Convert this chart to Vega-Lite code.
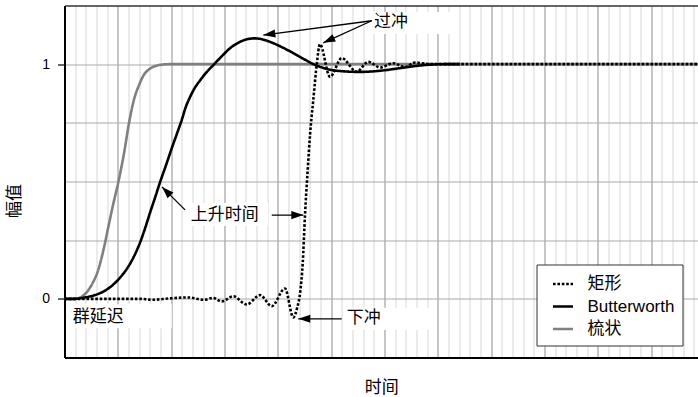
{
  "$schema": "https://vega.github.io/schema/vega-lite/v6.json",
  "width": 633.5,
  "height": 352,
  "autosize": {"type": "none"},
  "padding": {"left": 64.5, "top": 5.5, "right": 0, "bottom": 39.5},
  "background": "white",
  "config": {
    "font": "Liberation Sans, Noto Sans CJK SC",
    "view": {"stroke": null}
  },
  "datasets": {
    "curves": [
      {"series": "梳状", "x": 0, "y": 0},
      {"series": "梳状", "x": 0.98, "y": 0},
      {"series": "梳状", "x": 1.64, "y": 0.01},
      {"series": "梳状", "x": 2.2, "y": 0.035},
      {"series": "梳状", "x": 2.67, "y": 0.07},
      {"series": "梳状", "x": 3.14, "y": 0.12},
      {"series": "梳状", "x": 3.61, "y": 0.2},
      {"series": "梳状", "x": 4.08, "y": 0.3},
      {"series": "梳状", "x": 4.55, "y": 0.4},
      {"series": "梳状", "x": 5.06, "y": 0.5},
      {"series": "梳状", "x": 5.58, "y": 0.62},
      {"series": "梳状", "x": 6.05, "y": 0.75},
      {"series": "梳状", "x": 6.52, "y": 0.85},
      {"series": "梳状", "x": 6.98, "y": 0.91},
      {"series": "梳状", "x": 7.45, "y": 0.955},
      {"series": "梳状", "x": 7.92, "y": 0.978},
      {"series": "梳状", "x": 8.39, "y": 0.99},
      {"series": "梳状", "x": 8.95, "y": 0.997},
      {"series": "梳状", "x": 9.89, "y": 1},
      {"series": "梳状", "x": 59.39, "y": 1},

      {"series": "Butterworth", "x": 0, "y": 0},
      {"series": "Butterworth", "x": 0.98, "y": 0},
      {"series": "Butterworth", "x": 1.92, "y": 0.006},
      {"series": "Butterworth", "x": 2.86, "y": 0.016},
      {"series": "Butterworth", "x": 3.8, "y": 0.035},
      {"series": "Butterworth", "x": 4.45, "y": 0.056},
      {"series": "Butterworth", "x": 5.2, "y": 0.09},
      {"series": "Butterworth", "x": 6.02, "y": 0.14},
      {"series": "Butterworth", "x": 6.61, "y": 0.19},
      {"series": "Butterworth", "x": 7.11, "y": 0.243},
      {"series": "Butterworth", "x": 7.55, "y": 0.3},
      {"series": "Butterworth", "x": 8.04, "y": 0.37},
      {"series": "Butterworth", "x": 8.48, "y": 0.43},
      {"series": "Butterworth", "x": 8.98, "y": 0.5},
      {"series": "Butterworth", "x": 9.52, "y": 0.57},
      {"series": "Butterworth", "x": 10.08, "y": 0.645},
      {"series": "Butterworth", "x": 10.55, "y": 0.705},
      {"series": "Butterworth", "x": 10.99, "y": 0.762},
      {"series": "Butterworth", "x": 11.39, "y": 0.82},
      {"series": "Butterworth", "x": 11.77, "y": 0.86},
      {"series": "Butterworth", "x": 12.23, "y": 0.9},
      {"series": "Butterworth", "x": 12.7, "y": 0.93},
      {"series": "Butterworth", "x": 13.26, "y": 0.963},
      {"series": "Butterworth", "x": 13.95, "y": 0.996},
      {"series": "Butterworth", "x": 14.77, "y": 1.035},
      {"series": "Butterworth", "x": 15.52, "y": 1.068},
      {"series": "Butterworth", "x": 16.45, "y": 1.095},
      {"series": "Butterworth", "x": 17.2, "y": 1.107},
      {"series": "Butterworth", "x": 17.86, "y": 1.11},
      {"series": "Butterworth", "x": 18.52, "y": 1.106},
      {"series": "Butterworth", "x": 19.27, "y": 1.095},
      {"series": "Butterworth", "x": 19.89, "y": 1.083},
      {"series": "Butterworth", "x": 20.67, "y": 1.066},
      {"series": "Butterworth", "x": 21.33, "y": 1.05},
      {"series": "Butterworth", "x": 22.08, "y": 1.031},
      {"series": "Butterworth", "x": 22.83, "y": 1.012},
      {"series": "Butterworth", "x": 23.48, "y": 0.997},
      {"series": "Butterworth", "x": 24.42, "y": 0.982},
      {"series": "Butterworth", "x": 25.2, "y": 0.974},
      {"series": "Butterworth", "x": 26.02, "y": 0.97},
      {"series": "Butterworth", "x": 27.7, "y": 0.967},
      {"series": "Butterworth", "x": 29.58, "y": 0.972},
      {"series": "Butterworth", "x": 31.45, "y": 0.983},
      {"series": "Butterworth", "x": 32.86, "y": 0.992},
      {"series": "Butterworth", "x": 34.27, "y": 0.998},
      {"series": "Butterworth", "x": 35.67, "y": 1.0},
      {"series": "Butterworth", "x": 37.05, "y": 1.0},

      {"series": "矩形", "x": 0, "y": 0},
      {"series": "矩形", "x": 7.08, "y": 0},
      {"series": "矩形", "x": 8.2, "y": -0.004},
      {"series": "矩形", "x": 9.89, "y": 0.002},
      {"series": "矩形", "x": 11.58, "y": 0.006},
      {"series": "矩形", "x": 13.08, "y": -0.004},
      {"series": "矩形", "x": 13.92, "y": 0.004},
      {"series": "矩形", "x": 14.74, "y": -0.011},
      {"series": "矩形", "x": 15.82, "y": 0.011},
      {"series": "矩形", "x": 17.08, "y": -0.024},
      {"series": "矩形", "x": 18.33, "y": 0.016},
      {"series": "矩形", "x": 19.43, "y": -0.031},
      {"series": "矩形", "x": 20.67, "y": 0.044},
      {"series": "矩形", "x": 21.45, "y": -0.079},
      {"series": "矩形", "x": 21.8, "y": -0.04},
      {"series": "矩形", "x": 22.1, "y": 0.03},
      {"series": "矩形", "x": 22.33, "y": 0.15},
      {"series": "矩形", "x": 22.55, "y": 0.36},
      {"series": "矩形", "x": 22.8, "y": 0.55},
      {"series": "矩形", "x": 23.02, "y": 0.7},
      {"series": "矩形", "x": 23.33, "y": 0.85},
      {"series": "矩形", "x": 23.65, "y": 1.0},
      {"series": "矩形", "x": 23.95, "y": 1.085},
      {"series": "矩形", "x": 24.89, "y": 0.946},
      {"series": "矩形", "x": 25.99, "y": 1.026},
      {"series": "矩形", "x": 27.39, "y": 0.968},
      {"series": "矩形", "x": 28.48, "y": 1.01},
      {"series": "矩形", "x": 29.58, "y": 0.986},
      {"series": "矩形", "x": 30.82, "y": 1.004},
      {"series": "矩形", "x": 31.92, "y": 0.988},
      {"series": "矩形", "x": 32.86, "y": 1.007},
      {"series": "矩形", "x": 34.27, "y": 1.0},
      {"series": "矩形", "x": 59.39, "y": 1.0}
    ],
    "labelBoxes": [
      {"x": 28.83, "x2": 36.99, "y": 1.222, "y2": 1.129},
      {"x": 11.58, "x2": 19.08, "y": 0.408, "y2": 0.31},
      {"x": 26.14, "x2": 34.89, "y": -0.038, "y2": -0.133},
      {"x": 0.33, "x2": 10.05, "y": -0.023, "y2": -0.125}
    ],
    "labels": [
      {"label": "过冲", "x": 29.02, "y": 1.181},
      {"label": "上升时间", "x": 11.83, "y": 0.357},
      {"label": "下冲", "x": 26.46, "y": -0.083},
      {"label": "群延迟", "x": 0.77, "y": -0.079}
    ],
    "arrows": [
      {"x": 18.64, "y": 1.124, "x2": 28.8, "y2": 1.185, "angle": -97.5},
      {"x": 24.26, "y": 1.091, "x2": 28.8, "y2": 1.185, "angle": -114.4},
      {"x": 9.14, "y": 0.477, "x2": 11.3, "y2": 0.379, "angle": -45},
      {"x": 22.39, "y": 0.357, "x2": 19.43, "y2": 0.357, "angle": 90},
      {"x": 21.92, "y": -0.085, "x2": 25.99, "y2": -0.085, "angle": -90}
    ]
  },
  "encoding": {
    "x": {
      "field": "x",
      "type": "quantitative",
      "scale": {"domain": [0, 59.39], "nice": false, "zero": false},
      "axis": {
        "title": "时间",
        "values": [1,2,3,4,5,6,7,8,9,10,11,12,13,14,15,16,17,18,19,20,21,22,23,24,25,26,27,28,29,30,31,32,33,34,35,36,37,38,39,40,41,42,43,44,45,46,47,48,49,50,51,52,53,54,55,56,57,58,59],
        "domain": true,
        "domainColor": "#000000",
        "domainWidth": 2,
        "ticks": false,
        "labels": false,
        "grid": true,
        "gridColor": {"condition": {"test": "datum.value % 5 === 0", "value": "#b3b3b3"}, "value": "#e4e4e4"},
        "gridWidth": 1.5,
        "titleFontSize": 17,
        "titleFontWeight": "normal",
        "titleColor": "#000000",
        "titleY": 30,
        "titleBaseline": "middle"
      }
    },
    "y": {
      "field": "y",
      "type": "quantitative",
      "scale": {"domain": [-0.25, 1.25], "nice": false, "zero": false},
      "axis": {
        "title": "幅值",
        "values": [-0.25, 0, 0.25, 0.5, 0.75, 1, 1.25],
        "labelExpr": "datum.value === 0 || datum.value === 1 ? format(datum.value, 'd') : ''",
        "labelFontSize": 14,
        "labelColor": "#000000",
        "labelPadding": 8,
        "domain": true,
        "domainColor": "#000000",
        "domainWidth": 2,
        "tickSize": 7,
        "tickColor": "#000000",
        "tickWidth": 1.2,
        "tickOpacity": {"condition": {"test": "datum.value === 0 || datum.value === 1", "value": 1}, "value": 0},
        "grid": true,
        "gridColor": {"condition": {"test": "datum.value === 1.25", "value": "#333333"}, "value": "#a9a9a9"},
        "gridWidth": {"condition": {"test": "datum.value === 1.25", "value": 1.6}, "value": 1.2},
        "titleFontSize": 17,
        "titleFontWeight": "normal",
        "titleColor": "#000000",
        "titleX": -50,
        "titleY": 195,
        "titleBaseline": "middle"
      }
    }
  },
  "layer": [
    {
      "data": {"name": "labelBoxes"},
      "mark": {"type": "rect", "fill": "white", "strokeWidth": 0},
      "encoding": {
        "x2": {"field": "x2"},
        "y2": {"field": "y2"}
      }
    },
    {
      "data": {"name": "curves"},
      "mark": {"type": "line", "interpolate": "monotone", "strokeWidth": 2.6, "strokeCap": "butt"},
      "encoding": {
        "color": {
          "field": "series",
          "type": "nominal",
          "scale": {"domain": ["矩形", "Butterworth", "梳状"], "range": ["#000000", "#000000", "#808080"]},
          "legend": {
            "title": null,
            "orient": "none",
            "legendX": 472,
            "legendY": 259,
            "symbolType": "stroke",
            "symbolStrokeWidth": 2.6,
            "symbolSize": 400,
            "labelFontSize": 17,
            "labelColor": "#000000",
            "padding": 8,
            "rowPadding": 2.5,
            "symbolOffset": 7,
            "labelOffset": 13,
            "strokeColor": "#333333",
            "fillColor": "white"
          }
        },
        "strokeDash": {
          "field": "series",
          "type": "nominal",
          "scale": {"domain": ["矩形", "Butterworth", "梳状"], "range": [[2.6, 1.8], [1, 0], [1, 0]]},
          "legend": {
            "title": null,
            "orient": "none",
            "legendX": 472,
            "legendY": 259,
            "symbolType": "stroke",
            "symbolStrokeWidth": 2.6,
            "symbolSize": 400,
            "labelFontSize": 17,
            "labelColor": "#000000",
            "padding": 8,
            "rowPadding": 2.5,
            "symbolOffset": 7,
            "labelOffset": 13,
            "strokeColor": "#333333",
            "fillColor": "white"
          }
        }
      }
    },
    {
      "data": {"name": "arrows"},
      "mark": {"type": "rule", "color": "#000000", "strokeWidth": 1.3},
      "encoding": {
        "x2": {"field": "x2"},
        "y2": {"field": "y2"}
      }
    },
    {
      "data": {"name": "arrows"},
      "mark": {"type": "point", "shape": "M0,0L-0.34,1L0.34,1Z", "filled": true, "color": "#000000", "opacity": 1, "size": 576, "strokeWidth": 0},
      "encoding": {
        "angle": {"field": "angle", "type": "quantitative", "scale": null}
      }
    },
    {
      "data": {"name": "labels"},
      "mark": {"type": "text", "align": "left", "baseline": "middle", "fontSize": 17, "color": "#000000"},
      "encoding": {
        "text": {"field": "label", "type": "nominal"}
      }
    }
  ]
}
